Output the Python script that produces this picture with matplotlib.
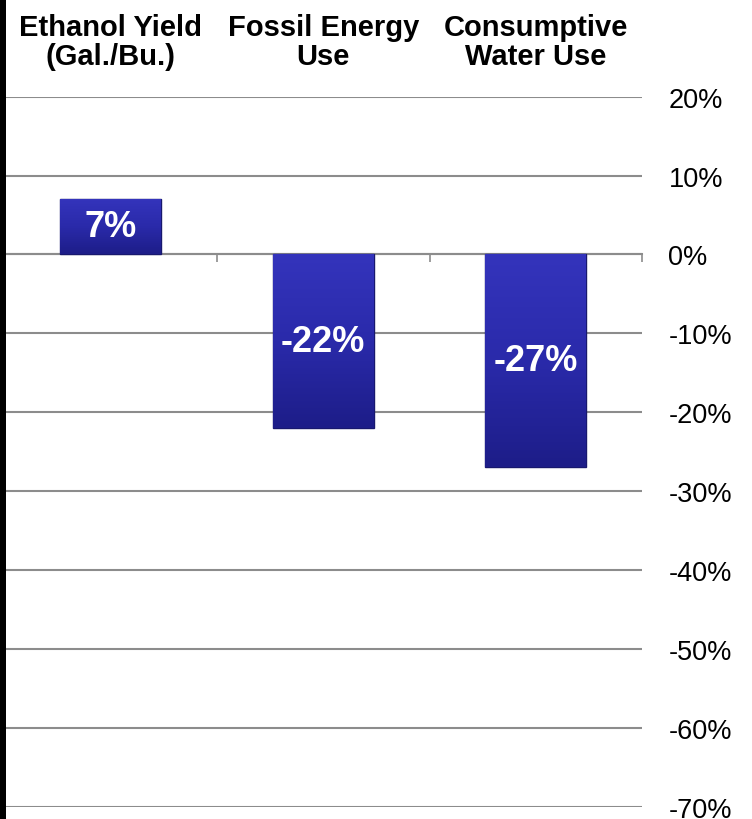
import matplotlib.pyplot as plt
import matplotlib.patches as mpatches
import matplotlib.transforms as mtransforms
from matplotlib.colors import LinearSegmentedColormap
import numpy as np

plt.rcParams['font.family'] = ['Liberation Sans', 'DejaVu Sans']

categories = ['Ethanol Yield\n(Gal./Bu.)', 'Fossil Energy\nUse', 'Consumptive\nWater Use']
changes = [7, -22, -27]
bar_labels = ['7%', '-22%', '-27%']
yticks = [20, 10, 0, -10, -20, -30, -40, -50, -60, -70]

fig = plt.figure(figsize=(7.52, 8.2), dpi=100)
ax = fig.add_axes([4.5 / 752, 1 - 807.5 / 820, (642 - 4.5) / 752, (807.5 - 97.7) / 820])

x = np.arange(len(categories))
bars = ax.bar(x, changes, width=0.475, color='#2828a8', edgecolor='#18186e',
              linewidth=1.0, zorder=3)

# soft vertical gradient inside each bar
cmap = LinearSegmentedColormap.from_list('bar', ['#1d1d88', '#2a2aaa', '#3434bc'])
grad = np.linspace(0, 1, 256).reshape(-1, 1)
for b in bars:
    x0, y0 = b.get_x(), b.get_y()
    w, h = b.get_width(), b.get_height()
    lo, hi = min(y0, y0 + h), max(y0, y0 + h)
    im = ax.imshow(grad, cmap=cmap, aspect='auto', origin='lower',
                   extent=[x0, x0 + w, lo, hi], zorder=3.5)
    im.set_clip_path(b)

# bar value labels
for b, lab in zip(bars, bar_labels):
    ax.text(b.get_x() + b.get_width() / 2, b.get_height() / 2, lab,
            ha='center', va='center', color='white', fontsize=26,
            fontweight='bold', zorder=4)

# y axis on the right
ax.yaxis.tick_right()
ax.set_yticks(yticks)
ax.set_yticklabels(['{}%'.format(v) for v in yticks])
ax.tick_params(axis='y', length=0, pad=19, labelsize=19.5)
ax.grid(axis='y', color='#8c8c8c', linewidth=1.5)
ax.set_axisbelow(True)

# category labels above the plot
trans = mtransforms.blended_transform_factory(ax.transData, ax.transAxes)
for xi, cat in zip(x, categories):
    ax.annotate(cat, xy=(xi, 1), xycoords=trans, xytext=(0, 19),
                textcoords='offset points', ha='center', va='bottom',
                fontsize=21, fontweight='bold', linespacing=1.05)

# small ticks on the zero line between categories
ax.set_xticks(x + 0.5)
ax.tick_params(axis='x', bottom=True, labelbottom=False, direction='out',
               length=6, width=1.2, color='#8c8c8c')

for s in ['top', 'left', 'right']:
    ax.spines[s].set_visible(False)
ax.spines['bottom'].set_position(('data', 0))
ax.spines['bottom'].set_color('#8c8c8c')
ax.spines['bottom'].set_linewidth(1.5)

ax.set_xlim(-0.5, len(categories) - 0.5)
ax.set_ylim(-70, 20)

# black strip at the left edge
fig.patches.append(mpatches.Rectangle((0, 0), 6 / 752, 1, transform=fig.transFigure,
                                      facecolor='black', edgecolor='none', zorder=10))

fig.savefig('out.png', dpi=100)
